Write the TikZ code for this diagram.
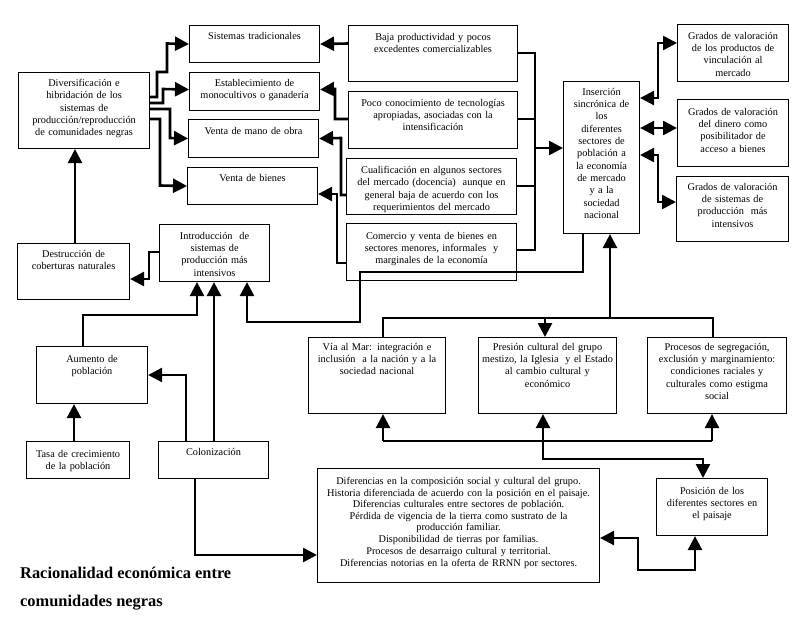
\documentclass[tikz,border=0pt]{standalone}
\usepackage{fontspec}
\setmainfont{Liberation Serif}
\usetikzlibrary{arrows.meta}
\tikzset{
  box/.style={draw, line width=1.1pt, inner sep=0pt},
  txt/.style={inner sep=0pt, align=center, font=\fontsize{10.3}{12.3}\selectfont},
  con/.style={line width=2.6pt, line join=miter},
  tip/.style={-{Triangle[length=14pt,width=14pt]}},
  tipb/.style={{Triangle[length=14pt,width=14pt]}-{Triangle[length=14pt,width=14pt]}},
}
\newcommand\bx[7]{%
  \pgfmathsetmacro\bxw{#4-#2}\pgfmathsetmacro\bxh{#5-#3}%
  \node[box, minimum width=\bxw pt, minimum height=\bxh pt, anchor=north west] (#1) at (#2,#3) {};
  \node[txt, text width=\bxw pt, anchor=north] (#1-t) at ([yshift=-#6pt]#1.north) {#7};
}
\begin{document}
\begin{tikzpicture}[x=1pt,y=-1pt]
\useasboundingbox (0,0) rectangle (800,616);
% boxes
\bx{div}{18}{72}{149}{148}{7}{Diversificación e\\hibridación de los\\sistemas de\\producción/reproducción\\de comunidades negras}
\bx{st}{189}{25}{319}{62}{7}{Sistemas tradicionales}
\bx{est}{189}{72}{319}{110}{7}{Establecimiento de\\monocultivos o ganadería}
\bx{vmo}{188}{119}{318}{157}{8}{Venta de mano de obra}
\bx{vb}{187}{167}{317}{204}{7}{Venta de bienes}
\bx{baja}{348}{25}{517}{81}{8}{Baja productividad y pocos\\excedentes comercializables}
\bx{poco}{348}{91}{517}{148}{8}{Poco conocimiento de tecnologías\\apropiadas, asociadas con la\\intensificación}
\bx{cual}{346}{158}{516}{214}{8}{Cualificación en algunos sectores\\del mercado (docencia)\ \ aunque en\\general baja de acuerdo con los\\requerimientos del mercado}
\bx{com}{346}{223}{516}{280}{9}{Comercio y venta de bienes en\\sectores menores, informales\ \ y\\marginales de la economía}
\bx{ins}{563}{81}{639}{233}{7}{Inserción\\sincrónica de\\los\\diferentes\\sectores de\\población a\\la economía\\de mercado\\y a la\\sociedad\\nacional}
\bx{g1}{677}{24}{788}{81}{8}{Grados de valoración\\de los productos de\\vinculación al\\mercado}
\bx{g2}{677}{99}{788}{166}{9}{Grados de valoración\\del dinero como\\posibilitador de\\acceso a bienes}
\bx{g3}{676}{176}{788}{241}{7}{Grados de valoración\\de sistemas de\\producción\ \ más\\intensivos}
\bx{des}{17}{243}{129}{299}{7}{Destrucción de\\coberturas naturales}
\bx{intro}{159}{224}{269}{281}{8}{Introducción\ \ de\\sistemas de\\producción más\\intensivos}
\bx{aum}{36}{346}{147}{403}{9}{Aumento de\\población}
\bx{tasa}{26}{441}{129}{478}{9}{Tasa de crecimiento\\de la población}
\bx{col}{158}{441}{268}{478}{7}{Colonización}
\bx{via}{308}{337}{445}{413}{6}{Vía al Mar: integración e\\inclusión\ \ a la nación y a la\\sociedad nacional}
\bx{pres}{478}{337}{616}{413}{6}{Presión cultural del grupo\\mestizo, la Iglesia\ \ y el Estado\\al cambio cultural y\\económico}
\bx{proc}{647}{337}{786}{413}{6}{Procesos de segregación,\\exclusión y marginamiento:\\condiciones raciales y\\culturales como estigma\\social}
\bx{dif}{317}{468}{599}{582}{9}{\baselineskip=11.6pt Diferencias en la composición social y cultural del grupo.\\Historia diferenciada de acuerdo con la posición en el paisaje.\\Diferencias culturales entre sectores de población.\\Pérdida de vigencia de la tierra como sustrato de la\\producción familiar.\\Disponibilidad de tierras por familias.\\Procesos de desarraigo cultural y territorial.\\Diferencias notorias en la oferta de RRNN por sectores.}
\bx{pos}{656}{478}{767}{535}{9}{Posición de los\\diferentes sectores en\\el paisaje}
% title
\node[inner sep=0pt, anchor=base west, align=left, font=\fontsize{16.4}{28}\selectfont\bfseries] (title) at (20,606) {Racionalidad económica entre\\comunidades negras};
% connectors: div to left column
\draw[con,tip] ([yshift=-25pt]div.north east) -- (157,97) -- (157,72) -- (167,72) -- (167,43.5) -- (st.west);
\draw[con,tip] ([yshift=-31pt]div.north east) -- (163,103) -- (163,89) -- ([yshift=2pt]est.west);
\draw[con,tip] ([yshift=-37pt]div.north east) -- (170,109) -- (170,138) -- (vmo.west);
\draw[con,tip] ([yshift=-47pt]div.north east) -- (160,119) -- (160,185.5) -- (vb.west);
% middle to left column
\draw[con,tip] ([yshift=-18.5pt]baja.north west) -- (st.east);
\draw[con,tip] ([yshift=-28pt]poco.north west) -- (335,119) -- (335,89) -- ([yshift=2pt]est.east);
\draw[con,tip] ([yshift=-37pt]cual.north west) -- (341,195) -- (341,138) -- (vmo.east);
\draw[con,tip] ([yshift=-40pt]com.north west) -- (337,263) -- (337,194) -- ([yshift=-27pt]vb.north east);
% middle to insercion
\draw[con] ([yshift=-28pt]baja.north east) -- (535,53) -- (535,250) -- ([yshift=-27pt]com.north east);
\draw[con] ([yshift=-28pt]poco.north east) -- (535,119);
\draw[con] ([yshift=-28pt]cual.north east) -- (535,186);
\coordinate (bus1) at (535,148);
\draw[con,tip] (bus1) -- ([yshift=-67pt]ins.north west);
% insercion to grados
\draw[con,tipb] ([yshift=-17pt]ins.north east) -- (658,98) -- (658,43) -- ([yshift=-19pt]g1.north west);
\draw[con,tipb] ([yshift=-47pt]ins.north east) -- ([yshift=-29pt]g2.north west);
\draw[con,tipb] ([yshift=-74pt]ins.north east) -- (658,155) -- (658,202) -- ([yshift=-26pt]g3.north west);
% insercion to introduccion
\draw[con,tip] ([xshift=20pt]ins.south west) -- (583,272) -- (360,272) -- (360,322) -- (247,322) -- ([xshift=88pt]intro.south west);
% upper bus via / pres / proc
\draw[con] ([xshift=75pt]via.north west) -- (383,318) -- (713,318) -- ([xshift=66pt]proc.north west);
\coordinate (bus2) at (610,318);
\coordinate (bus3) at (545,318);
\draw[con,tip] (bus2) -- ([xshift=47pt]ins.south west);
\draw[con,tip] (bus3) -- ([xshift=67pt]pres.north west);
% lower bus
\coordinate (lb1) at (383,441);
\coordinate (lb2) at (543,441);
\coordinate (lb3) at (712,441);
\draw[con] (lb1) -- (lb3);
\draw[con,tip] (lb1) -- ([xshift=75pt]via.south west);
\draw[con,tip] (lb2) -- ([xshift=65pt]pres.south west);
\draw[con,tip] (lb3) -- ([xshift=65pt]proc.south west);
\draw[con,tip] (lb2) -- (543,459) -- (703,459) -- ([xshift=47pt]pos.north west);
% diferencias <-> posicion
\draw[con,tipb] ([yshift=-70pt]dif.north east) -- (638,538) -- (638,570) -- (695,570) -- ([xshift=39pt]pos.south west);
% colonizacion
\draw[con,tip] ([xshift=37pt]col.south west) -- (195,555) -- ([yshift=-87pt]dif.north west);
\draw[con,tip] ([xshift=56pt]col.north west) -- ([xshift=55pt]intro.south west);
\draw[con,tip] ([xshift=28pt]col.north west) -- (186,375) -- ([yshift=-29pt]aum.north east);
% aumento, tasa
\draw[con,tip] ([xshift=47pt]aum.north west) -- (83,315) -- (197,315) -- ([xshift=38pt]intro.south west);
\draw[con,tip] ([xshift=48pt]tasa.north west) -- ([xshift=38pt]aum.south west);
% introduccion to destruccion, destruccion to div
\draw[con,tip] ([yshift=-28pt]intro.north west) -- (149,252) -- (149,279) -- ([yshift=-36pt]des.north east);
\draw[con,tip] ([xshift=58pt]des.north west) -- ([xshift=57pt]div.south west);
\end{tikzpicture}
\end{document}
